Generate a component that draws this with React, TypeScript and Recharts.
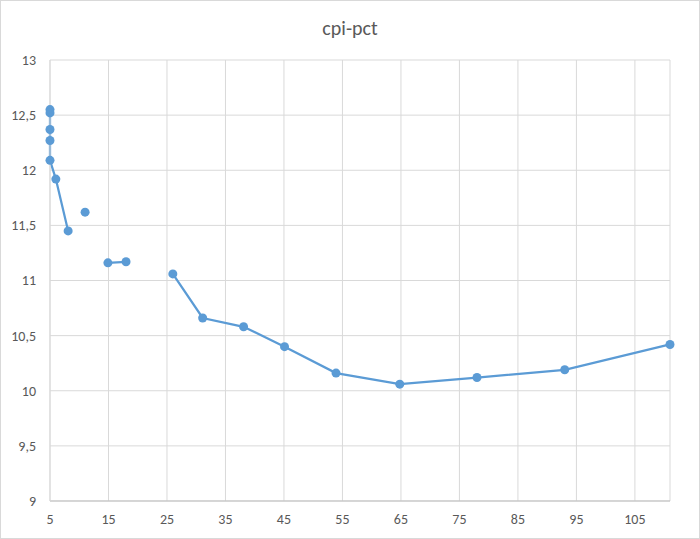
import { LineChart, Line, XAxis, YAxis, CartesianGrid } from 'recharts';

// x / y columns, a null y leaves a gap in the line (like an empty Excel cell)
const xValues = [5, 5, 5, 5, 5, 6, 8.1, 9.5, 11, 13, 14.9, 18, 22, 26, 31.1, 38.1, 45.1, 53.9, 64.8, 78, 93, 111];
const yValues = [12.55, 12.52, 12.37, 12.27, 12.09, 11.92, 11.45, null, 11.62, null, 11.16, 11.17, null, 11.06, 10.66, 10.58, 10.4, 10.16, 10.06, 10.12, 10.19, 10.42];

const xTicks = [5, 15, 25, 35, 45, 55, 65, 75, 85, 95, 105];
const yTicks = [9, 9.5, 10, 10.5, 11, 11.5, 12, 12.5, 13];

const title = 'cpi-pct';

const data = xValues.map((x, i) => ({ x, y: yValues[i] }));

const font = 'Carlito, "Open Sans", "Liberation Sans", sans-serif';
const blue = '#5b9bd5';

const App = () => {
  return (
    <div
      style={{
        position: 'absolute',
        left: 0,
        top: 0,
        width: 700,
        height: 539,
        boxSizing: 'border-box',
        border: '1px solid #d9d9d9',
        background: '#fff',
        fontFamily: font,
      }}
    >
      <div
        style={{
          position: 'absolute',
          top: 15,
          width: '100%',
          textAlign: 'center',
          fontSize: 20,
          color: '#595959',
        }}
      >
        {title}
      </div>
      <div style={{ position: 'absolute', left: -1, top: -1 }}>
        <LineChart width={700} height={539} data={data} margin={{ top: 60, right: 30, bottom: 8, left: 10 }}>
          <CartesianGrid stroke="#d9d9d9" />
          <XAxis
            dataKey="x"
            type="number"
            domain={[5, 111]}
            ticks={xTicks}
            height={30}
            tickLine={false}
            axisLine={{ stroke: '#bfbfbf' }}
            tick={{ fill: '#595959', fontSize: 14, fontFamily: font }}
            tickMargin={7}
          />
          <YAxis
            type="number"
            domain={[9, 13]}
            ticks={yTicks}
            width={40}
            tickLine={false}
            axisLine={{ stroke: '#d9d9d9' }}
            tick={{ fill: '#595959', fontSize: 14, fontFamily: font }}
            tickFormatter={(v: number) => String(v).replace('.', ',')}
            tickMargin={8}
          />
          <Line
            dataKey="y"
            stroke={blue}
            strokeWidth={2.25}
            connectNulls={false}
            dot={{ r: 4.5, fill: blue, stroke: blue, strokeWidth: 0, clipDot: false }}
            isAnimationActive={false}
          />
        </LineChart>
      </div>
    </div>
  );
};

export default App;
